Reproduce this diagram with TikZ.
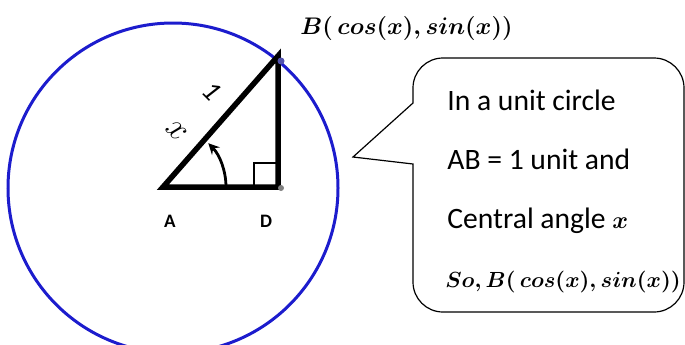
\documentclass[tikz,border=0pt]{standalone}
\usepackage{fontspec}
\setmainfont{Carlito}
\definecolor{circblue}{RGB}{28,28,205}
\newcommand{\bmath}[1]{{\boldmath$#1$}}
\tikzset{
  boxtext/.style={anchor=base west,inner sep=0pt,font=\fontsize{14.8}{17}\selectfont},
  ptlabel/.style={font=\bfseries\fontsize{9.5}{11}\selectfont},
  sidelabel/.style={rotate=-45,font=\fontsize{14}{16}\selectfont},
}
\begin{document}
\begin{tikzpicture}[x=0.5pt,y=-0.5pt,>=stealth]
  \useasboundingbox (0,0) rectangle (685,344);
  \draw[circblue,line width=1.5pt] (173,188) circle[radius=165];
  \coordinate (A) at (163,187); \coordinate (D) at (278,187); \coordinate (B) at (278,56);
  \draw[line width=2.75pt] (A) -- (D) -- (B) -- cycle;
  \draw[line width=1.4pt] (254,187) -- (254,163) -- (278,163);
  \draw[->,line width=1.4pt] (226,187) arc[start angle=0,end angle=-44,radius=63];
  \fill[blue!35!gray] (281,61) circle[radius=3.5]; \fill[gray] (281,188) circle[radius=3];
  \node[ptlabel] (lA) at (170,221) {A};
  \node[ptlabel] (lD) at (266,221) {D};
  \node[sidelabel] (one) at (212,91) {\textit{1}};
  \node[sidelabel,font=\fontsize{17}{19}\selectfont] (ex) at (177,131) {$x$};
  \node[anchor=base west,inner sep=0pt,font=\fontsize{13}{15}\selectfont] (title) at (300,34) {\bmath{B(\,cos(x), sin(x))}};
  \coordinate (tip) at (353,157);
  \draw[line width=0.6pt] (413,164) -- (tip) -- (413,103) -- (413,88) .. controls (413,71.4) and (426.4,58) .. (443,58)
    -- (654,58) .. controls (670.6,58) and (684,71.4) .. (684,88) -- (684,282) .. controls (684,298.6) and (670.6,312) .. (654,312)
    -- (443,312) .. controls (426.4,312) and (413,298.6) .. (413,282) -- cycle;
  \node[boxtext] (l1) at (447,110) {In a unit circle};
  \node[boxtext] (l2) at (447,169) {AB = 1 unit and};
  \node[boxtext] (l3) at (447,228) {Central angle {\fontsize{13}{15}\selectfont\bmath{x}}};
  \node[boxtext,font=\fontsize{11.3}{14}\selectfont] (l4) at (445,287) {\bmath{So, B(\,cos(x), sin(x))}};
\end{tikzpicture}
\end{document}
